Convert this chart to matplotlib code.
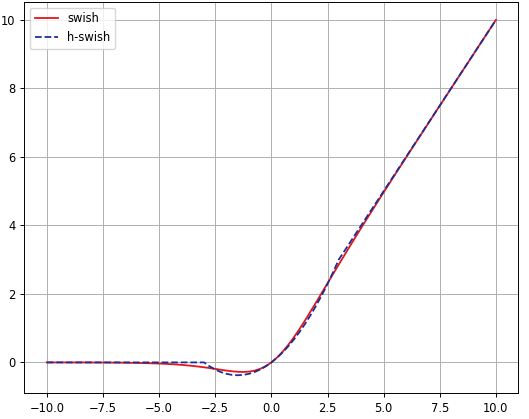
import matplotlib
matplotlib.use("Agg")
import matplotlib.pyplot as plt

swish_x = [-10, -9.5, -9, -8.5, -8, -7.5, -7, -6.5, -6, -5.5, -5, -4.5, -4, -3.5, -3,
           -2.5, -2.25, -2, -1.75, -1.5, -1.25, -1, -0.75, -0.5, -0.25, 0, 0.25, 0.5,
           0.75, 1, 1.25, 1.5, 2, 2.5, 3, 3.5, 4, 4.5, 5, 5.5, 6, 6.5, 7, 7.5, 8, 8.5,
           9, 9.5, 10]
swish_y = [-0.0005, -0.0007, -0.0011, -0.0017, -0.0027, -0.0041, -0.0064, -0.0098,
           -0.0148, -0.0224, -0.0335, -0.0493, -0.0719, -0.1025, -0.1423, -0.1896,
           -0.2144, -0.2384, -0.259, -0.2736, -0.2784, -0.2689, -0.2406, -0.1888,
           -0.1094, 0.0, 0.1406, 0.3112, 0.5094, 0.7311, 0.9716, 1.2264, 1.7616,
           2.3104, 2.8577, 3.3975, 3.9281, 4.4507, 4.9665, 5.4776, 5.9852, 6.4902,
           6.9936, 7.4959, 7.9973, 8.4983, 8.9989, 9.4993, 9.9995]

hswish_x = [-10, -3, -2.75, -2.5, -2.25, -2, -1.75, -1.5, -1.25, -1, -0.75, -0.5, -0.25,
            0, 0.25, 0.5, 0.75, 1, 1.25, 1.5, 1.75, 2, 2.25, 2.5, 2.75, 3, 10]
hswish_y = [0, 0, -0.1146, -0.2083, -0.2813, -0.3333, -0.3646, -0.375, -0.3646, -0.3333,
            -0.2813, -0.2083, -0.1146, 0, 0.1354, 0.2917, 0.4688, 0.6667, 0.8854, 1.125,
            1.3854, 1.6667, 1.9688, 2.2917, 2.6354, 3.0, 10.0]

fs = 8.3
fig = plt.figure(figsize=(5.29, 4.19), dpi=100)
ax = fig.add_axes([0.046, 0.062, 0.934, 0.933])
ax.plot(swish_x, swish_y, color="#e3161b", lw=1.3, label="swish")
ax.plot(hswish_x, hswish_y, color="#1c2e9c", lw=1.3, ls="--", label="h-swish")
ax.grid(True, color="#b0b0b0", lw=0.7)
ax.set_xticks([-10, -7.5, -5, -2.5, 0, 2.5, 5, 7.5, 10])
ax.tick_params(labelsize=fs, width=0.7, length=3)
for s in ax.spines.values():
    s.set_linewidth(0.7)
ax.legend(loc="upper left", fontsize=fs)
fig.savefig("out.png", dpi=100)
